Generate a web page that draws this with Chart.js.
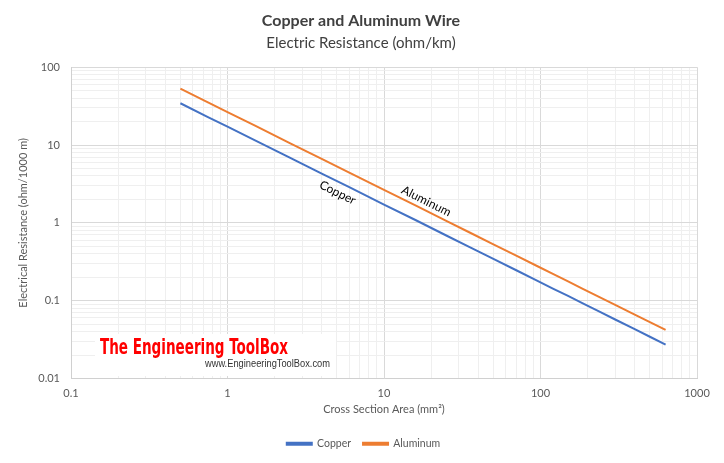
<!DOCTYPE html>
<html><head><meta charset="utf-8">
<script src="https://cdn.jsdelivr.net/npm/chart.js@4.4.0/dist/chart.umd.min.js"></script>
<style>html,body{margin:0;padding:0;background:#fff}#wrap{width:724px;height:463px}</style>
</head><body><div id="wrap"><canvas id="c" width="724" height="463"></canvas></div>
<script>
// ---- data ----
const crossSection = [0.5, 0.75, 1, 1.5, 2.5, 4, 6, 10, 16, 25, 35, 50, 70, 95, 120, 150, 185, 240, 300, 400, 500, 630];
const copper = [34.4, 22.9, 17.2, 11.5, 6.88, 4.30, 2.87, 1.72, 1.08, 0.688, 0.491, 0.344, 0.246, 0.181, 0.143, 0.115, 0.093, 0.0717, 0.0573, 0.043, 0.0344, 0.0273];
const aluminum = [53.0, 35.3, 26.5, 17.7, 10.6, 6.63, 4.42, 2.65, 1.66, 1.06, 0.757, 0.53, 0.379, 0.279, 0.221, 0.177, 0.143, 0.110, 0.0883, 0.0663, 0.053, 0.0421];
const xTickLabels = [0.1, 1, 10, 100, 1000];
const yTickLabels = [0.01, 0.1, 1, 10, 100];
const minorSteps = [1, 2, 3, 4, 5, 6, 7, 8, 9];

function gridTicks(decades) {
  const out = [];
  for (let i = 0; i < decades.length - 1; i++) {
    for (const m of minorSteps) out.push(Number((m * decades[i]).toPrecision(3)));
  }
  out.push(decades[decades.length - 1]);
  return out;
}
const xGrid = gridTicks(xTickLabels);
const yGrid = gridTicks(yTickLabels);

Chart.defaults.font.family = 'Lato, "Open Sans", sans-serif';
Chart.defaults.color = '#595959';

const pts = (xs, ys) => xs.map((x, i) => ({x: x, y: ys[i]}));
const isMajor = (v, list) => list.some(l => Math.abs(l - v) < 1e-9);

const labelPlugin = {
  id: 'lineLabels',
  afterLayout(chart) {
    for (const b of chart.boxes) {
      if (b === chart.legend) { b.left = 0; b.right = 727; }
      else if (!b.axis && b.options && b.options.text !== undefined) { b.left = 0; b.right = 722; }
    }
  },
  beforeDatasetsDraw(chart) {
    const ctx = chart.ctx;
    ctx.save();
    ctx.fillStyle = '#ffffff';
    ctx.fillRect(95, 334, 241, 42);
    ctx.fillStyle = '#ff0000';
    ctx.font = 'bold 22px "DejaVu Sans Condensed", "Liberation Sans", sans-serif';
    ctx.textBaseline = 'middle';
    ctx.textAlign = 'left';
    ctx.fillText('The Engineering ToolBox', 100, 348, 188);
    ctx.fillStyle = '#333333';
    ctx.font = '10px "Liberation Sans", Arial, sans-serif';
    ctx.fillText('www.EngineeringToolBox.com', 205, 364, 125);
    ctx.restore();
  },
  afterDatasetsDraw(chart) {
    const xs = chart.scales.x, ys = chart.scales.y, ctx = chart.ctx;
    const n = crossSection.length - 1;
    const ang = Math.atan2(ys.getPixelForValue(copper[n]) - ys.getPixelForValue(copper[0]),
                           xs.getPixelForValue(crossSection[n]) - xs.getPixelForValue(crossSection[0]));
    const labels = [['Copper', 5.05, 2.45], ['Aluminum', 18.6, 1.9]];
    ctx.save();
    ctx.fillStyle = '#000000';
    ctx.font = '12px Lato, sans-serif';
    ctx.textAlign = 'center';
    ctx.textBaseline = 'middle';
    for (const [t, vx, vy] of labels) {
      ctx.save();
      ctx.translate(xs.getPixelForValue(vx), ys.getPixelForValue(vy));
      ctx.rotate(ang);
      ctx.fillText(t, 0, 0);
      ctx.restore();
    }
    ctx.restore();
  }
};

new Chart(document.getElementById('c'), {
  type: 'line',
  data: {
    datasets: [
      {label: 'Copper', data: pts(crossSection, copper), borderColor: '#4472C4', backgroundColor: '#4472C4', borderWidth: 2, pointRadius: 0, tension: 0},
      {label: 'Aluminum', data: pts(crossSection, aluminum), borderColor: '#ED7D31', backgroundColor: '#ED7D31', borderWidth: 2, pointRadius: 0, tension: 0}
    ]
  },
  options: {
    responsive: false,
    animation: false,
    layout: {padding: {top: 0, left: 0, right: 27, bottom: 4}},
    plugins: {
      title: {display: true, text: 'Copper and Aluminum Wire', color: '#404040', font: {size: 16, weight: 'bold'}, padding: {top: 11, bottom: 3}},
      subtitle: {display: true, text: 'Electric Resistance (ohm/km)', color: '#404040', font: {size: 15}, padding: {top: 1, bottom: 15}},
      legend: {position: 'bottom', labels: {boxWidth: 25, boxHeight: 2, padding: 12, color: '#595959', font: {size: 10.5}}},
      tooltip: {enabled: false}
    },
    scales: {
      x: {
        type: 'logarithmic', min: 0.1, max: 1000,
        afterBuildTicks: s => { s.ticks = xGrid.map(v => ({value: v, major: isMajor(v, xTickLabels)})); },
        afterFit: s => { s.height = 48; },
        ticks: {autoSkip: false, maxRotation: 0, padding: 8, font: {size: 11}, color: '#595959',
          callback: (v) => isMajor(v, xTickLabels) ? String(v) : ''},
        grid: {drawTicks: false, color: c => (c.tick && c.tick.major) ? '#d9d9d9' : '#efefef'},
        border: {color: '#d0d0d0'},
        title: {display: true, text: 'Cross Section Area (mm²)', color: '#595959', font: {size: 11}, padding: {top: 0, bottom: 10}}
      },
      y: {
        type: 'logarithmic', min: 0.01, max: 100,
        afterBuildTicks: s => { s.ticks = yGrid.map(v => ({value: v, major: isMajor(v, yTickLabels)})); },
        afterFit: s => { s.width = 71; },
        ticks: {autoSkip: false, padding: 11, font: {size: 11}, color: '#595959',
          callback: (v) => isMajor(v, yTickLabels) ? String(v) : ''},
        grid: {drawTicks: false, color: c => (c.tick && c.tick.major) ? '#d9d9d9' : '#efefef'},
        border: {color: '#d0d0d0'},
        title: {display: true, text: 'Electrical Resistance (ohm/1000 m)', color: '#595959', font: {size: 11}, padding: {top: 17, bottom: 0}}
      }
    }
  },
  plugins: [labelPlugin]
});
</script>
</body></html>
